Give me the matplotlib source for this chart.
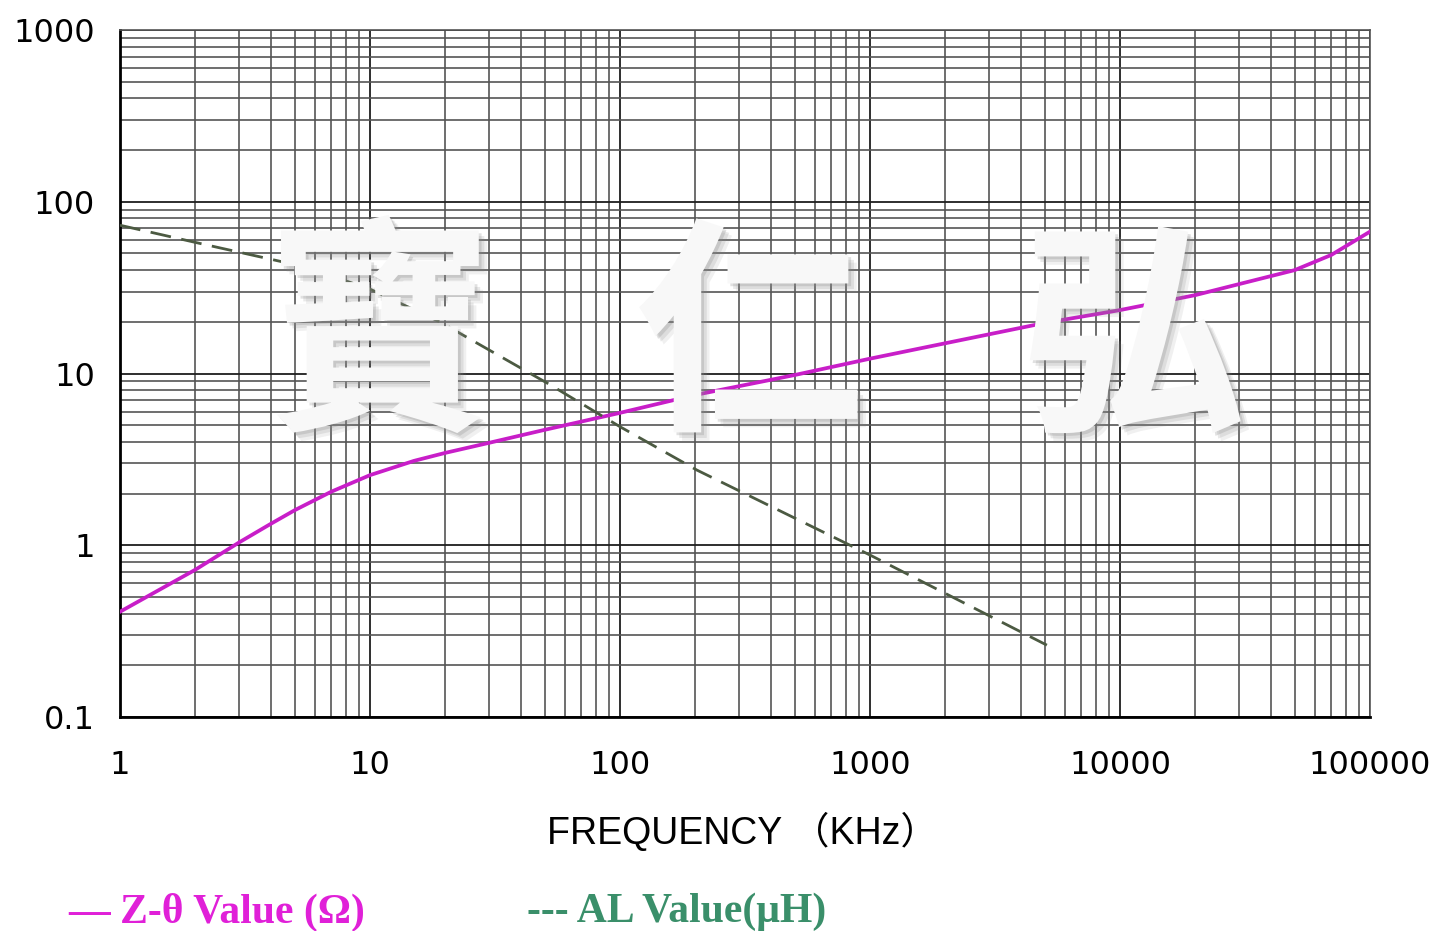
import numpy as np
import matplotlib
matplotlib.use("Agg")
import matplotlib.pyplot as plt
import matplotlib.patheffects as pe
from matplotlib.ticker import LogLocator, NullFormatter

# values
freq_z = [1, 2, 3, 4, 5, 7, 10, 15, 20, 30, 50, 100, 200, 500, 1000,
          2000, 5000, 10000, 20000, 50000, 70000, 100000]
z_val = [0.41, 0.72, 1.04, 1.33, 1.6, 2.05, 2.56, 3.1, 3.45, 3.95, 4.7, 5.9,
         7.5, 9.8, 12.2, 15.0, 19.7, 23.4, 28.6, 40, 49, 67]

freq_al = [1, 2, 5.4, 10, 19, 52.5, 100, 203, 1000, 5100]
al_val = [73, 58, 42, 31, 20, 8.6, 4.9, 2.74, 0.877, 0.262]

x_ticks = [1, 10, 100, 1000, 10000, 100000]
x_labels = ["1", "10", "100", "1000", "10000", "100000"]
y_ticks = [0.1, 1, 10, 100, 1000]
y_labels = ["0.1", "1", "10", "100", "1000"]

fig = plt.figure(figsize=(14.41, 9.31), dpi=100)
ax = fig.add_axes([120/1441, 1-717/931, 1250/1441, 687/931])

ax.set_xscale("log")
ax.set_yscale("log")
ax.set_xlim(1, 100000)
ax.set_ylim(0.1, 1000)

ax.plot(freq_z, z_val, color="#c81ec8", lw=2.7, zorder=4)
ax.plot(freq_al, al_val, color="#4c5a42", lw=2.0, ls=(0, (7.5, 3.8)), zorder=4)

ax.set_xticks(x_ticks)
ax.set_xticklabels(x_labels)
ax.set_yticks(y_ticks)
ax.set_yticklabels(y_labels)
ax.xaxis.set_minor_locator(LogLocator(base=10, subs=np.arange(2, 10), numticks=20))
ax.yaxis.set_minor_locator(LogLocator(base=10, subs=np.arange(2, 10), numticks=20))
ax.xaxis.set_minor_formatter(NullFormatter())
ax.yaxis.set_minor_formatter(NullFormatter())
ax.tick_params(which="both", length=0)
ax.tick_params(axis="x", pad=24, labelsize=23)
ax.tick_params(axis="y", pad=18, labelsize=23)

ax.grid(which="major", color="#1e1e1e", lw=1.3)
ax.grid(which="minor", color="#555555", lw=1.2)
ax.set_axisbelow(True)

for s in ["left", "bottom"]:
    ax.spines[s].set_color("black")
    ax.spines[s].set_linewidth(2.0)
for s in ["top", "right"]:
    ax.spines[s].set_color("#555555")
    ax.spines[s].set_linewidth(1.2)

fig.text(742/1441, 1-832/931, "FREQUENCY （KHz）", ha="center", va="center",
         fontsize=27, family=["Liberation Sans", "Noto Sans CJK SC"])

# watermark
shadow = [pe.SimplePatchShadow(offset=(6, -6), shadow_rgbFace="#888888", alpha=0.12),
          pe.SimplePatchShadow(offset=(4, -4), shadow_rgbFace="#888888", alpha=0.18),
          pe.SimplePatchShadow(offset=(2, -2), shadow_rgbFace="#888888", alpha=0.25),
          pe.Normal()]
for ch, cx, cy in [("寶", 380, 345), ("仁", 750, 345), ("弘", 1132, 348)]:
    fig.text(cx/1441, 1-cy/931, ch, ha="center", va="center", fontsize=165,
             family="Noto Sans CJK TC", weight="bold", color="#f8f8f8",
             path_effects=shadow, zorder=10)

# legend texts
fig.text(68/1441, 1-912/931, "— Z-θ Value (Ω)", ha="left", va="center",
         fontsize=30, family="Liberation Serif", weight="bold", color="#e020d8")
fig.text(527/1441, 1-912/931, "--- AL Value(μH)", ha="left", va="center",
         fontsize=30, family="Liberation Serif", weight="bold", color="#3a8f6a")

fig.savefig("out.png", dpi=100)
